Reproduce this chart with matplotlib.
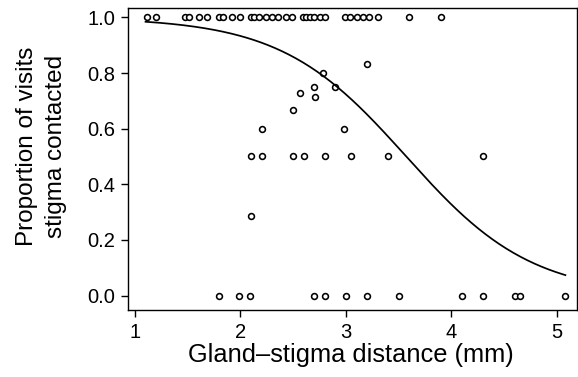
import numpy as np
import matplotlib
matplotlib.use("Agg")
import matplotlib.pyplot as plt

plt.rcParams['font.family'] = ['Liberation Sans', 'DejaVu Sans']

# Observed proportions (distance in mm, proportion of visits stigma contacted)
x_top = [1.11, 1.20, 1.47, 1.51, 1.61, 1.68, 1.80, 1.83, 1.92, 2.00, 2.10, 2.13,
         2.18, 2.24, 2.30, 2.36, 2.43, 2.49, 2.59, 2.62, 2.66, 2.70, 2.75, 2.80,
         2.99, 3.04, 3.10, 3.16, 3.22, 3.30, 3.60, 3.90]
y_top = [1.0] * len(x_top)

x_mid = [2.20, 2.10, 2.20, 2.50, 2.60, 2.80, 3.05, 3.40, 4.30, 2.10, 2.50, 2.56,
         2.70, 2.71, 2.78, 2.90, 2.98, 3.20]
y_mid = [0.6, 0.5, 0.5, 0.5, 0.5, 0.5, 0.5, 0.5, 0.5, 0.2857, 0.667, 0.727,
         0.75, 0.714, 0.8, 0.75, 0.6, 0.833]

x_bot = [1.80, 1.99, 2.09, 2.70, 2.80, 3.00, 3.20, 3.50, 4.10, 4.30, 4.60, 4.65, 5.08]
y_bot = [0.0] * len(x_bot)

# Fitted logistic model coefficients
intercept = 6.0
slope = -1.68
fit_range = (1.1, 5.08)

xticks = [1, 2, 3, 4, 5]
yticks = [0.0, 0.2, 0.4, 0.6, 0.8, 1.0]

fig = plt.figure(figsize=(5.78, 3.77), dpi=100)
ax = fig.add_axes([0.2215, 0.1777, 0.776, 0.8011])

xs = np.concatenate([x_top, x_mid, x_bot])
ys = np.concatenate([y_top, y_mid, y_bot])
ax.plot(xs, ys, linestyle='none', marker='o', markersize=4.2,
        markerfacecolor='white', markeredgecolor='black', markeredgewidth=1.15)

xf = np.linspace(fit_range[0], fit_range[1], 300)
yf = 1.0 / (1.0 + np.exp(-(intercept + slope * xf)))
ax.plot(xf, yf, color='black', linewidth=1.25)

ax.set_xlim(0.934, 5.186)
ax.set_ylim(-0.052, 1.034)
ax.set_xticks(xticks)
ax.set_xticklabels([str(t) for t in xticks])
ax.set_yticks(yticks)
ax.set_yticklabels([f"{t:.1f}" for t in yticks])
ax.tick_params(direction='out', length=5, width=1.0, labelsize=14.5, colors='black', pad=4)
for s in ax.spines.values():
    s.set_linewidth(1.0)

ax.set_xlabel("Gland\u2013stigma distance (mm)", fontsize=18.3)
ax.xaxis.set_label_coords(0.497, -0.11)
ax.set_ylabel("Proportion of visits\nstigma contacted", fontsize=17.5, linespacing=1.38)
ax.yaxis.set_label_coords(-0.137, 0.543)

fig.savefig("out.png", dpi=100)
